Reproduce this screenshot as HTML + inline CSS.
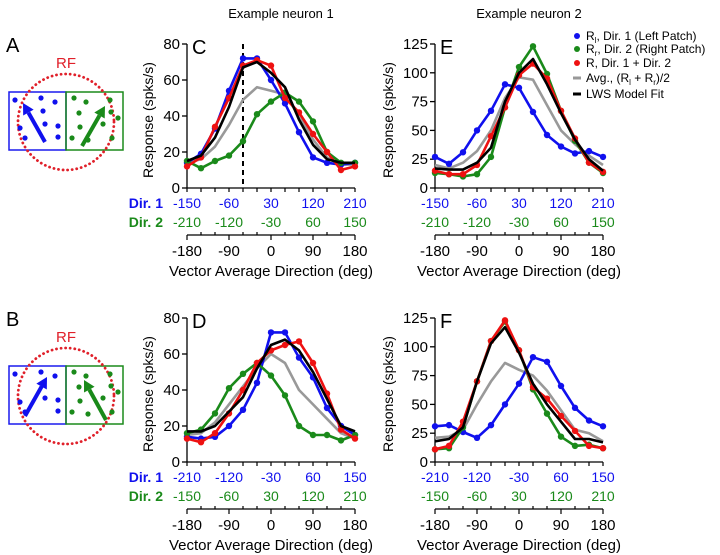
<!DOCTYPE html>
<html><head><meta charset="utf-8"><style>
html,body{margin:0;padding:0;background:#fff;}
svg{display:block;font-family:"Liberation Sans",Arial,sans-serif;}
</style></head><body>
<svg id="fig" width="720" height="555" viewBox="0 0 720 555">
<g id="static">
<text x="281" y="18" font-size="13" text-anchor="middle">Example neuron 1</text>
<text x="529" y="18" font-size="13" text-anchor="middle">Example neuron 2</text>
<text x="6" y="52" font-size="20">A</text>
<text x="6" y="326" font-size="20">B</text>
<text x="192" y="54" font-size="20">C</text>
<text x="192" y="328" font-size="20">D</text>
<text x="440" y="54" font-size="20">E</text>
<text x="440" y="328" font-size="20">F</text>
<g font-size="12">
 <circle cx="577" cy="36" r="3" fill="#1010ee"/><text x="586" y="40">R<tspan font-size="8" dy="3">l</tspan><tspan dy="-3">, Dir. 1 (Left Patch)</tspan></text>
 <circle cx="577" cy="49" r="3" fill="#1a8a1a"/><text x="586" y="53">R<tspan font-size="8" dy="3">r</tspan><tspan dy="-3">, Dir. 2 (Right Patch)</tspan></text>
 <circle cx="577" cy="63" r="3" fill="#ee1111"/><text x="586" y="67">R, Dir. 1 + Dir. 2</text>
 <line x1="573" y1="78" x2="581" y2="78" stroke="#999" stroke-width="3"/><text x="586" y="82">Avg., (R<tspan font-size="8" dy="3">l</tspan><tspan dy="-3"> + R</tspan><tspan font-size="8" dy="3">r</tspan><tspan dy="-3">)/2</tspan></text>
 <line x1="573" y1="94" x2="581" y2="94" stroke="#000" stroke-width="3"/><text x="586" y="98">LWS Model Fit</text>
</g>
</g>
</svg>
<script>
const dirs = [-180,-150,-120,-90,-60,-30,0,30,60,90,120,150,180];
const xTickLabels = [-180,-90,0,90,180];
const yTicksC = [0,20,40,60,80];
const yTicksE = [0,25,50,75,100,125];
const dir1Top = [-150,-60,30,120,210];
const dir2Top = [-210,-120,-30,60,150];
const dir1Bot = [-210,-120,-30,60,150];
const dir2Bot = [-150,-60,30,120,210];
// panel C
const cBlue  = [14,19,33,54,72,72,60,47,31,17,14,13,14];
const cGreen = [15,11,15,18,26,41,48,53,48,37,20,14,14];
const cRed   = [12,17,34,50,68,71,68,50,42,30,20,10,12];
const cGray  = [14,16,23,35,49,56,54,52,40,27,17,13,13];
const cBlack = [15,18,28,45,67,70,64,56,38,24,16,14,14];
// panel D
const dBlue  = [14,13,14,20,29,44,72,72,58,47,30,20,15];
const dGreen = [16,18,27,41,49,55,48,37,20,15,15,12,15];
const dRed   = [13,11,16,27,40,55,62,65,67,55,38,18,13];
const dGray  = [15,16,22,32,42,52,60,55,40,32,24,16,13];
const dBlack = [17,17,20,28,36,52,65,68,62,50,35,20,17];
// panel E
const eBlue  = [27,21,31,50,67,90,87,66,46,36,30,32,27];
const eGreen = [13,12,10,12,27,70,105,123,99,67,41,22,13];
const eRed   = [15,12,12,20,45,70,98,108,95,67,43,22,14];
const eGray  = [20,17,22,32,50,78,96,94,72,50,38,28,20];
const eBlack = [17,16,16,22,35,75,100,112,90,65,42,25,15];
// panel F
const fBlue  = [31,32,26,21,32,50,68,91,87,66,47,36,31];
const fGreen = [11,12,30,70,105,122,97,63,42,22,14,15,12];
const fRed   = [11,14,35,70,105,123,97,65,55,40,27,14,12];
const fGray  = [21,22,28,50,70,86,80,75,62,45,28,25,18];
const fBlack = [18,20,30,70,103,117,95,68,50,35,20,20,17];
const dashDir = -60;

const NS="http://www.w3.org/2000/svg";
const svg=document.getElementById('fig');
function mk(tag,attrs,parent){const e=document.createElementNS(NS,tag);for(const k in attrs)e.setAttribute(k,attrs[k]);(parent||svg).appendChild(e);return e;}
const BLUE="#1010ee",GREEN="#1a8a1a",RED="#ee1111",GRAY="#999999",BLACK="#000";

function panel(name,x0,yTop,ymax,yTicks,d1,d2,series,showDirLbl,dash,titleOff){
  const W=168,H=144;
  const g=mk('g',{});
  
  
  const xs=d=>x0+(d+180)*W/360;
  const ys=v=>yTop+H-v*H/ymax;
  const y0=yTop+H;
  const ya=mk('g',{},g);
  
  
  mk('line',{x1:x0,y1:yTop,x2:x0,y2:y0,stroke:'#000','stroke-width':1.3},ya);
  yTicks.forEach(t=>{const y=ys(t);mk('line',{x1:x0-5,y1:y,x2:x0,y2:y,stroke:'#000','stroke-width':1.3},ya);
    const tx=mk('text',{x:x0-7,y:y+5,'font-size':15,'text-anchor':'end'},ya);tx.textContent=t;});
  const yl=mk('text',{x:0,y:0,'font-size':14,'text-anchor':'middle',transform:`translate(${x0-titleOff},${yTop+H/2+4}) rotate(-90)`},ya);
  yl.textContent='Response (spks/s)';
  
  
  mk('line',{x1:x0,y1:y0,x2:x0+W,y2:y0,stroke:'#000','stroke-width':1.3},g);
  dirs.forEach(d=>mk('line',{x1:xs(d),y1:y0,x2:xs(d),y2:y0+4,stroke:'#000','stroke-width':1.2},g));
  const r1=y0+20,r2=y0+39;
  d1.forEach((t,i)=>{const tx=mk('text',{x:xs(xTickLabels[i]),y:r1,'font-size':14,'text-anchor':'middle',fill:BLUE},g);tx.textContent=t;});
  d2.forEach((t,i)=>{const tx=mk('text',{x:xs(xTickLabels[i]),y:r2,'font-size':14,'text-anchor':'middle',fill:GREEN},g);tx.textContent=t;});
  if(showDirLbl){
    const a=mk('text',{x:x0-24,y:r1,'font-size':14,'font-weight':'bold','text-anchor':'end',fill:BLUE},g);a.textContent='Dir. 1';
    
    const b=mk('text',{x:x0-24,y:r2,'font-size':14,'font-weight':'bold','text-anchor':'end',fill:GREEN},g);b.textContent='Dir. 2';
    
  }
  const xa=mk('g',{},g);
  
  
  const ax2=y0+47;
  mk('line',{x1:x0,y1:ax2,x2:x0+W,y2:ax2,stroke:'#000','stroke-width':1.3},xa);
  dirs.forEach(d=>{const big=(d%90===0);mk('line',{x1:xs(d),y1:ax2,x2:xs(d),y2:ax2+(big?5:-3),stroke:'#000','stroke-width':1.2},xa);});
  xTickLabels.forEach(t=>{const tx=mk('text',{x:xs(t),y:ax2+21,'font-size':15,'text-anchor':'middle'},xa);tx.textContent=t;});
  const xt=mk('text',{x:x0+W/2,y:ax2+41,'font-size':15,'text-anchor':'middle'},xa);
  xt.textContent='Vector Average Direction (deg)';
  
  
  if(dash!==null){
    const dl=mk('line',{x1:xs(dash),y1:yTop,x2:xs(dash),y2:y0,stroke:'#000','stroke-width':2,'stroke-dasharray':'5,4'},g);
    
    
  }
  series.forEach(s=>{
    const sg=mk('g',{},g);
    
    
    const pts=s.vals.map((v,i)=>xs(dirs[i]).toFixed(1)+','+ys(v).toFixed(1)).join(' ');
    mk('polyline',{points:pts,fill:'none',stroke:s.color,'stroke-width':s.w,'stroke-linejoin':'round'},sg);
    if(s.marker) s.vals.forEach((v,i)=>{
      const c=mk('circle',{cx:xs(dirs[i]),cy:ys(v),r:3.2,fill:s.color},sg);
      
      
    });
  });
}
function ser(b,gr,r,gy,bk){return [
 {name:'series-avg',vals:gy,color:GRAY,w:2.6,marker:false},
 {name:'series-left-patch',vals:b,color:BLUE,w:2.6,marker:true},
 {name:'series-right-patch',vals:gr,color:GREEN,w:2.6,marker:true},
 {name:'series-combined',vals:r,color:RED,w:2.6,marker:true},
 {name:'series-lws-fit',vals:bk,color:BLACK,w:2.6,marker:false}];}
panel('panel-c',187,44,80,yTicksC,dir1Top,dir2Top,ser(cBlue,cGreen,cRed,cGray,cBlack),true,dashDir,34);
panel('panel-e',435,44,125,yTicksE,dir1Top,dir2Top,ser(eBlue,eGreen,eRed,eGray,eBlack),false,null,42);
panel('panel-d',187,318,80,yTicksC,dir1Bot,dir2Bot,ser(dBlue,dGreen,dRed,dGray,dBlack),true,null,34);
panel('panel-f',435,318,125,yTicksE,dir1Bot,dir2Bot,ser(fBlue,fGreen,fRed,fGray,fBlack),false,null,42);

function stim(name,oy,flip){
  const g=mk('g',{});
  
  
  const rf=mk('text',{x:66,y:oy+68,'font-size':15,fill:'#e0202a','text-anchor':'middle'},g);rf.textContent='RF';
  
  const l=mk('rect',{x:9,y:oy+92,width:57,height:58,fill:'none',stroke:'#1a1aee','stroke-width':1.5},g);
  
  const r=mk('rect',{x:66,y:oy+92,width:57,height:58,fill:'none',stroke:'#1a8a1a','stroke-width':1.5},g);
  
  const c=mk('circle',{cx:66,cy:oy+122,r:48,fill:'none',stroke:'#e0202a','stroke-width':2.8,'stroke-dasharray':'0.1,4.5','stroke-linecap':'round'},g);
  
  [[15,100],[41,98],[55,102],[43,111],[20,128],[45,124],[58,126],[25,138],[58,137]].forEach(p=>mk('circle',{cx:p[0],cy:oy+p[1],r:2.6,fill:'#1010ee'},g));
  [[74,98],[86,102],[110,100],[79,113],[111,112],[80,127],[103,124],[118,118],[88,140],[112,138],[72,138]].forEach(p=>mk('circle',{cx:p[0],cy:oy+p[1],r:2.6,fill:'#1a8a1a'},g));
  function arrow(x1,y1,x2,y2,col){
    const dx=x2-x1,dy=y2-y1,L=Math.hypot(dx,dy),ux=dx/L,uy=dy/L;
    const bx=x2-ux*11,by=y2-uy*11;
    mk('line',{x1:x1,y1:oy+y1,x2:bx,y2:oy+by,stroke:col,'stroke-width':4},g);
    mk('polygon',{points:`${x2},${oy+y2} ${bx-uy*6},${oy+by+ux*6} ${bx+uy*6},${oy+by-ux*6}`,fill:col},g);
  }
  if(!flip){arrow(45,142,23,103,'#1010ee');arrow(82,146,105,106,'#1a8a1a');}
  else{arrow(25,142,47,103,'#1010ee');arrow(106,146,84,106,'#1a8a1a');}
}
stim('stimulus-a',0,false);
stim('stimulus-b',274,true);
</script>
</body></html>
